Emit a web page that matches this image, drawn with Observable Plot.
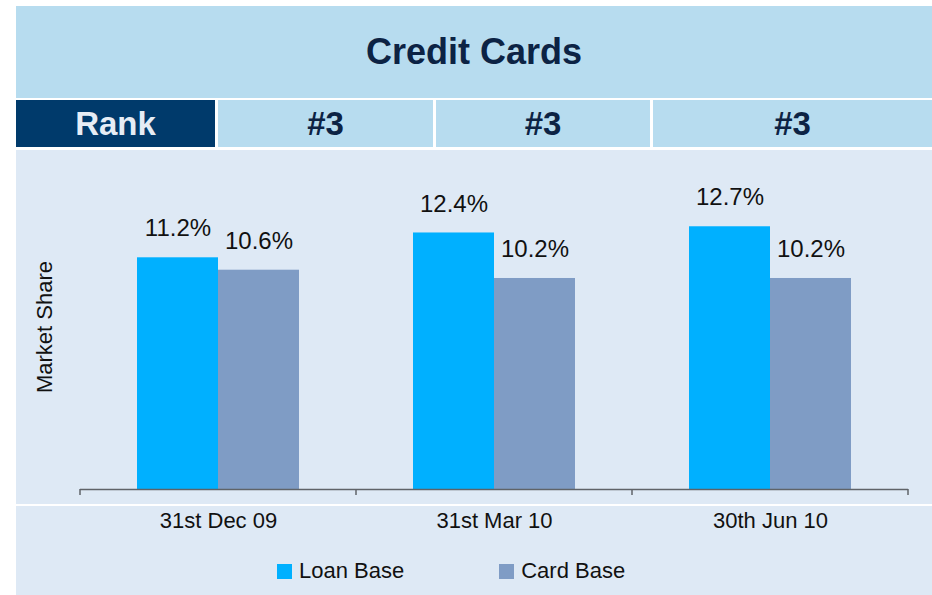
<!DOCTYPE html>
<html>
<head>
<meta charset="utf-8">
<script src="https://cdn.jsdelivr.net/npm/d3@7"></script>
<script src="https://cdn.jsdelivr.net/npm/@observablehq/plot@0.6"></script>
<style>
  html, body { margin: 0; padding: 0; background: #ffffff; }
  body { width: 932px; height: 595px; position: relative; overflow: hidden;
         font-family: "Liberation Sans", Arial, sans-serif; }
  #title { position: absolute; left: 16px; top: 6px; width: 916px; height: 92px;
           background: #b7dcef; color: #0c2344; font-weight: bold; font-size: 36px;
           display: flex; align-items: center; justify-content: center; }
  .cell { position: absolute; top: 100px; height: 47px; background: #b7dcef;
          color: #0c2344; font-weight: bold; font-size: 33px;
          display: flex; align-items: center; justify-content: center; }
  .cell.head { background: #003a6b; color: #e6edf5; }
  #chartArea { position: absolute; left: 16px; top: 150px; width: 916px; height: 445px;
               background: #dee9f5; }
  #chart { position: absolute; left: 0; top: 0; }
  #whiteLine { position: absolute; left: 0; top: 354px; width: 916px; height: 2px; background: #ffffff; }
  #ylabel { position: absolute; left: 29px; top: 177px; width: 0; height: 0; }
  #ylabel span { position: absolute; transform: translate(-50%, -50%) rotate(-90deg);
                 white-space: nowrap; font-size: 22px; color: #111; }
  #legend { position: absolute; top: 408px; left: 261px; display: flex; align-items: center;
            font-size: 22px; color: #111; }
  .item { display: flex; align-items: center; }
  .sw { width: 15px; height: 15px; margin-right: 7px; }
</style>
</head>
<body>
<div id="title">Credit Cards</div>
<div id="rankRow"></div>
<div id="chartArea">
  <div id="whiteLine"></div>
  <div id="chart"></div>
  <div id="ylabel"><span>Market Share</span></div>
  <div id="legend"></div>
</div>
<script>
const dates = ["31st Dec 09", "31st Mar 10", "30th Jun 10"];
const ranks = ["#3", "#3", "#3"];
const series = ["Loan Base", "Card Base"];
const loanBase = [11.2, 12.4, 12.7];
const cardBase = [10.6, 10.2, 10.2];
const colors = ["#00b0ff", "#7f9cc5"];

// Rank row
const cellSpecs = [
  {text: "Rank", left: 16, width: 199, head: true},
  {text: ranks[0], left: 218, width: 215},
  {text: ranks[1], left: 436, width: 214},
  {text: ranks[2], left: 653, width: 279}
];
const row = document.getElementById("rankRow");
cellSpecs.forEach(c => {
  const d = document.createElement("div");
  d.className = "cell" + (c.head ? " head" : "");
  d.style.left = c.left + "px";
  d.style.width = c.width + "px";
  d.textContent = c.text;
  row.appendChild(d);
});

const data = [];
dates.forEach((d, i) => {
  data.push({date: d, series: series[0], value: loanBase[i]});
  data.push({date: d, series: series[1], value: cardBase[i]});
});

const chart = Plot.plot({
  width: 916,
  height: 395,
  marginLeft: 63,
  marginRight: 24,
  marginTop: 8,
  marginBottom: 56,
  style: {background: "transparent", fontFamily: "Liberation Sans, Arial, sans-serif", overflow: "visible"},
  fx: {domain: dates, padding: 0, label: null},
  x: {domain: series, paddingInner: 0, paddingOuter: 0.7, axis: null},
  y: {domain: [0, 16], axis: null},
  color: {domain: series, range: colors},
  marks: [
    Plot.barY(data, {fx: "date", x: "series", y: "value", fill: "series"}),
    Plot.text(data, {fx: "date", x: "series", y: "value", text: d => d.value.toFixed(1) + "%",
                     dy: -29, fontSize: 24, fill: "#111"}),
    Plot.ruleY([0], {stroke: "#5f6368", strokeWidth: 1.5}),
    Plot.axisFx({anchor: "bottom", tickSize: 0, tickPadding: 23, fontSize: 22, fill: "#111", label: null})
  ]
});
document.getElementById("chart").appendChild(chart);

// tick marks at category boundaries, from the fx scale
try {
  const fx = chart.scale("fx");
  const y = chart.scale("y");
  const y0 = y.apply(0);
  const edges = dates.map(d => fx.apply(d));
  edges.push(fx.apply(dates[dates.length - 1]) + fx.bandwidth);
  const svg = d3.select(chart.tagName.toLowerCase() === "svg" ? chart : chart.querySelector("svg"));
  svg.append("g").selectAll("line").data(edges).join("line")
    .attr("x1", d => d).attr("x2", d => d)
    .attr("y1", y0).attr("y2", y0 + 6)
    .attr("stroke", "#5f6368").attr("stroke-width", 1.5);
} catch (e) { console.error(e); }

// legend
const legend = document.getElementById("legend");
series.forEach((s, i) => {
  const it = document.createElement("div");
  it.className = "item";
  it.style.marginRight = i === 0 ? "95px" : "0";
  const sw = document.createElement("div");
  sw.className = "sw";
  sw.style.background = colors[i];
  const t = document.createElement("span");
  t.textContent = s;
  it.appendChild(sw); it.appendChild(t);
  legend.appendChild(it);
});
</script>
</body>
</html>
